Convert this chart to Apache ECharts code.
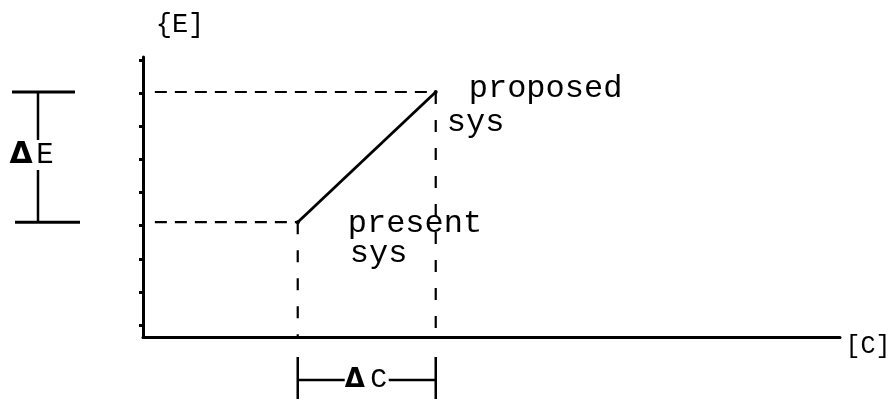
<!DOCTYPE html>
<html>
<head>
<meta charset="utf-8">
<script src="https://cdn.jsdelivr.net/npm/echarts@6/dist/echarts.min.js"></script>
<style>
html, body { margin: 0; background: #fff; }
#main { width: 894px; height: 400px; }
</style>
</head>
<body>
<div id="main"></div>
<script>
// 两个系统: present / proposed, 坐标 [C, E]
var sysNames = ['present', 'proposed'];
var costC = [2.22, 4.2];
var effE = [4.1, 8.75];
var dashStartC = 0.17;      // 水平虚线的起点
var axisNames = ['{E]', '[C]'];
var tickCount = 8;          // y轴上的小点

var myChart = echarts.init(document.getElementById('main'));
var font = "'Liberation Mono', 'Courier New', monospace";

var series = [];
// 从 present 到 proposed 的实线
series.push({
    type: 'line',
    xAxisIndex: 0, yAxisIndex: 0,
    data: [[costC[0], effE[0]], [costC[1], effE[1]]],
    symbol: 'circle', symbolSize: 4,
    itemStyle: { color: '#000' },
    lineStyle: { color: '#000', width: 2.8 }
});
// 虚线
for (var i = 0; i < sysNames.length; i++) {
    series.push({
        type: 'line',
        xAxisIndex: 0, yAxisIndex: 0,
        data: [[dashStartC, effE[i]], [costC[i], effE[i]]],
        symbol: 'none',
        lineStyle: { color: '#000', width: 2.2, type: [12, 8] }
    });
    series.push({
        type: 'line',
        xAxisIndex: 0, yAxisIndex: 0,
        data: [[costC[i], effE[i]], [costC[i], 0]],
        symbol: 'none',
        lineStyle: { color: '#000', width: 2.2, type: [12, 16] }
    });
}

var option = {
    animation: false,
    backgroundColor: '#fff',
    grid: [
        { left: 143, right: 54, top: 57, bottom: 63 },
        { left: 143, right: 54, top: 60, bottom: 75 }
    ],
    xAxis: [
        {
            gridIndex: 0, type: 'value', min: 0, max: 10,
            axisLine: { show: true, lineStyle: { color: '#000', width: 3 } },
            axisTick: { show: false }, axisLabel: { show: false }, splitLine: { show: false }
        },
        { gridIndex: 1, type: 'value', min: 0, max: 10, show: false }
    ],
    yAxis: [
        {
            gridIndex: 0, type: 'value', min: 0, max: 10,
            axisLine: { show: true, lineStyle: { color: '#000', width: 3 } },
            axisTick: { show: false }, axisLabel: { show: false }, splitLine: { show: false }
        },
        {
            gridIndex: 1, type: 'value', min: 0, max: tickCount, interval: 1,
            axisLine: { show: false },
            axisTick: { show: true, length: 4, lineStyle: { color: '#000', width: 3 } },
            axisLabel: { show: false }, splitLine: { show: false }
        }
    ],
    series: series
};
myChart.setOption(option);

// 标注: 用坐标换算得到像素位置
var p0 = myChart.convertToPixel({ gridIndex: 0 }, [costC[0], effE[0]]);
var p1 = myChart.convertToPixel({ gridIndex: 0 }, [costC[1], effE[1]]);
var org = myChart.convertToPixel({ gridIndex: 0 }, [0, 0]);
var xEnd = myChart.convertToPixel({ gridIndex: 0 }, [10, 0]);
var yTop = myChart.convertToPixel({ gridIndex: 0 }, [0, 10]);

function txt(str, x, y, size, align, weight, fam) {
    return {
        type: 'text', x: x, y: y,
        style: {
            text: str, fill: '#000',
            font: (weight || 'normal') + ' ' + size + 'px ' + (fam || font),
            textAlign: align || 'left', textVerticalAlign: 'middle'
        }
    };
}
function seg(x1, y1, x2, y2, w) {
    return {
        type: 'line',
        shape: { x1: x1, y1: y1, x2: x2, y2: y2 },
        style: { stroke: '#000', lineWidth: w || 2.5 }
    };
}

var bx = 38;
var midE = 155;
var midC = (p0[0] + p1[0]) / 2;
var yC = org[1] + 43;
var graphic = [
    txt(axisNames[0], org[0] + 37, yTop[1] - 32, 27, 'center'),
    txt(axisNames[1], xEnd[0] + 28, xEnd[1] + 9, 25, 'center'),
    txt('proposed', p1[0] + 33, p1[1] - 3, 32),
    txt('sys', p1[0] + 11, p1[1] + 31, 32),
    txt('present', p0[0] + 50, p0[1] + 1, 32),
    txt('sys', p0[0] + 52, p0[1] + 31, 32),
    // ΔE
    seg(12, p1[1], 75, p1[1], 3),
    seg(15, p0[1], 80, p0[1], 3),
    seg(bx, p1[1], bx, midE - 15, 2.5),
    seg(bx, midE + 15, bx, p0[1], 2.5),
    txt('Δ', 21, midE, 30, 'center', 'bold', "'DejaVu Sans'"),
    txt('E', 45, midE, 29, 'center'),
    // ΔC
    seg(p0[0], org[1] + 20, p0[0], org[1] + 62, 2.5),
    seg(p1[0], org[1] + 20, p1[0], org[1] + 62, 2.5),
    seg(p0[0], yC, midC - 22, yC, 2.5),
    seg(midC + 22, yC, p1[0], yC, 2.5),
    txt('Δ', midC - 12, yC, 26, 'center', 'bold', "'DejaVu Sans'"),
    txt('C', midC + 12, yC, 28, 'center')
];
myChart.setOption({ graphic: graphic });
</script>
</body>
</html>
